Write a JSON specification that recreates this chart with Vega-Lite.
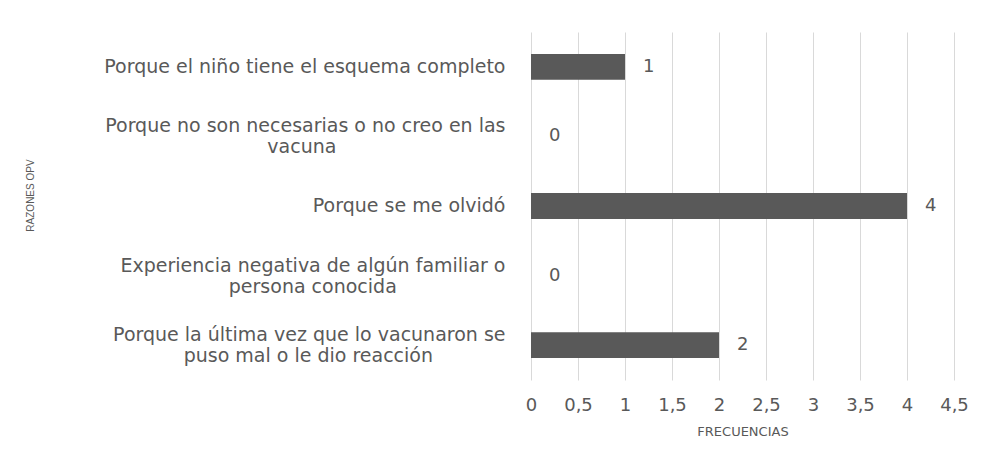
{
  "$schema": "https://vega.github.io/schema/vega-lite/v6.json",
  "width": 423,
  "height": 348,
  "autosize": {"type": "none"},
  "padding": {"left": 531, "top": 32, "right": 31, "bottom": 77},
  "background": "white",
  "config": {
    "view": {"stroke": null},
    "font": "DejaVu Sans"
  },
  "data": {
    "values": [
      {"razon": "Porque el niño tiene el esquema completo", "frecuencia": 1},
      {"razon": "Porque no son necesarias o no creo en las vacuna", "frecuencia": 0},
      {"razon": "Porque se me olvidó", "frecuencia": 4},
      {"razon": "Experiencia negativa de algún familiar o persona conocida", "frecuencia": 0},
      {"razon": "Porque la última vez que lo vacunaron se puso mal o le dio reacción", "frecuencia": 2}
    ]
  },
  "encoding": {
    "y": {
      "field": "razon",
      "type": "nominal",
      "sort": null,
      "scale": {"paddingInner": 0.63, "paddingOuter": 0.315},
      "axis": {
        "title": "RAZONES OPV",
        "titleFont": "Liberation Sans",
        "titleFontSize": 10,
        "titleFontWeight": "normal",
        "titleColor": "#595959",
        "titlePadding": 296,
        "titleY": 163,
        "labelFont": "DejaVu Sans",
        "labelFontSize": 19,
        "labelColor": "#595959",
        "labelPadding": 26,
        "labelLineHeight": 21,
        "labelLimit": 700,
        "labelOffset": {"condition": {"test": "datum.value != 'Porque el niño tiene el esquema completo' && datum.value != 'Porque se me olvidó'", "value": -10}, "value": 0},
        "ticks": false,
        "domain": false,
        "grid": false,
        "labelExpr": "datum.value == 'Porque no son necesarias o no creo en las vacuna' ? ['Porque no son necesarias o no creo en las', pad('vacuna', 34, '\u00a0') + '\u200b'] : datum.value == 'Experiencia negativa de algún familiar o persona conocida' ? ['Experiencia negativa de algún familiar o', pad('persona conocida', 34, '\u00a0') + '\u200b'] : datum.value == 'Porque la última vez que lo vacunaron se puso mal o le dio reacción' ? ['Porque la última vez que lo vacunaron se', pad('puso mal o le dio reacción', 38, '\u00a0') + '\u200b'] : datum.value"
      }
    },
    "x": {
      "field": "frecuencia",
      "type": "quantitative",
      "scale": {"domain": [0, 4.5], "nice": false},
      "axis": {
        "title": "FRECUENCIAS",
        "titleFont": "DejaVu Sans",
        "titleFontSize": 13,
        "titleFontWeight": "normal",
        "titleColor": "#595959",
        "titlePadding": 11,
        "values": [0, 0.5, 1, 1.5, 2, 2.5, 3, 3.5, 4, 4.5],
        "labelExpr": "replace(toString(datum.value), '.', ',')",
        "labelFont": "DejaVu Sans",
        "labelFontSize": 18,
        "labelColor": "#595959",
        "labelPadding": 16,
        "labelFlush": false,
        "ticks": false,
        "domain": false,
        "grid": true,
        "gridColor": "#d9d9d9",
        "gridWidth": 1
      }
    }
  },
  "layer": [
    {"mark": {"type": "bar", "color": "#595959"}},
    {
      "mark": {"type": "text", "align": "left", "baseline": "middle", "dx": 18, "fontSize": 18, "font": "DejaVu Sans", "color": "#595959"},
      "encoding": {"text": {"field": "frecuencia", "type": "quantitative"}}
    }
  ]
}
